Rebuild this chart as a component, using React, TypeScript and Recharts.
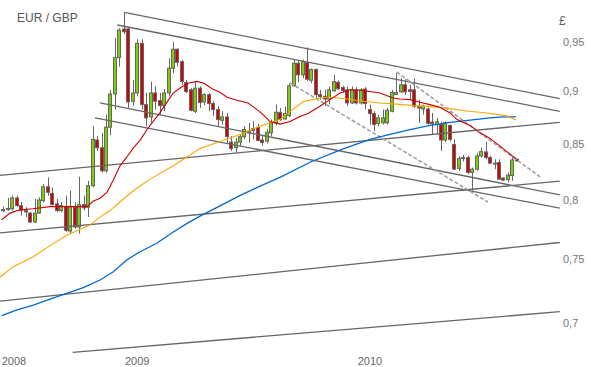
import React from 'react';
import { ComposedChart, Bar, Line, XAxis, YAxis, ReferenceLine } from 'recharts';

// Weekly EUR/GBP candles (index = week number)
const opens = [
  0.7905, 0.7915, 0.7922, 0.8016, 0.7950, 0.7907, 0.7885, 0.7809, 0.7885, 0.7993,
  0.8114, 0.8056, 0.7964, 0.7907, 0.7943, 0.7733, 0.7936, 0.7767, 0.7958, 0.7936,
  0.8123, 0.8537, 0.8466, 0.8256, 0.8657, 0.8975, 0.9337, 0.9632, 0.9632, 0.8904,
  0.8985, 0.9483, 0.8872, 0.8754, 0.8985, 0.8911, 0.8863, 0.8985, 0.9230, 0.9422,
  0.9296, 0.9087, 0.9016, 0.8808, 0.9032, 0.8898, 0.8968, 0.8882, 0.8824, 0.8722,
  0.8754, 0.8518, 0.8466, 0.8518, 0.8568, 0.8604, 0.8645, 0.8657, 0.8537, 0.8527,
  0.8604, 0.8698, 0.8798, 0.8735, 0.8767, 0.9055, 0.9280, 0.9164, 0.9286, 0.9110,
  0.9217, 0.8968, 0.8952, 0.8926, 0.9006, 0.9090, 0.9039, 0.9016, 0.8888, 0.9016,
  0.8888, 0.9023, 0.8824, 0.8786, 0.8693, 0.8698, 0.8698, 0.8808, 0.8970, 0.8996,
  0.9065, 0.9016, 0.9016, 0.8856, 0.8830, 0.8830, 0.8705, 0.8680, 0.8682, 0.8537,
  0.8673, 0.8496, 0.8277, 0.8370, 0.8376, 0.8241, 0.8271, 0.8391, 0.8427, 0.8376,
  0.8325, 0.8331, 0.8191, 0.8177, 0.8213, 0.8360,
];
const closes = [
  0.7915, 0.7925, 0.8016, 0.7950, 0.7907, 0.7895, 0.7809, 0.7885, 0.7998, 0.8114,
  0.8065, 0.7958, 0.7907, 0.7950, 0.7739, 0.7943, 0.7767, 0.7958, 0.7930, 0.8123,
  0.8543, 0.8466, 0.8256, 0.8657, 0.8975, 0.9337, 0.9621, 0.9604, 0.8898, 0.8985,
  0.9483, 0.8872, 0.8745, 0.8985, 0.8904, 0.8863, 0.8985, 0.9230, 0.9422, 0.9290,
  0.9097, 0.8999, 0.8817, 0.9032, 0.8892, 0.8968, 0.8882, 0.8824, 0.8729, 0.8754,
  0.8568, 0.8457, 0.8518, 0.8568, 0.8635, 0.8620, 0.8625, 0.8533, 0.8513, 0.8610,
  0.8698, 0.8798, 0.8729, 0.8785, 0.9055, 0.9280, 0.9164, 0.9297, 0.9120, 0.9217,
  0.8968, 0.8948, 0.8926, 0.9016, 0.9097, 0.9026, 0.9010, 0.8888, 0.9016, 0.8888,
  0.9016, 0.8882, 0.8786, 0.8682, 0.8745, 0.8745, 0.8818, 0.8990, 0.8990, 0.9065,
  0.8996, 0.8999, 0.8856, 0.8840, 0.8856, 0.8693, 0.8690, 0.8708, 0.8537, 0.8698,
  0.8543, 0.8271, 0.8366, 0.8376, 0.8241, 0.8271, 0.8391, 0.8430, 0.8376, 0.8325,
  0.8316, 0.8182, 0.8173, 0.8217, 0.8354, 0.8345,
];
const highs = [
  0.7940, 0.8016, 0.8036, 0.8036, 0.7981, 0.7936, 0.7893, 0.8007, 0.8022, 0.8138,
  0.8197, 0.8108, 0.8007, 0.7981, 0.8036, 0.8080, 0.7978, 0.8202, 0.8036, 0.8167,
  0.8666, 0.8573, 0.8604, 0.8776, 0.9016, 0.9541, 0.9639, 0.9808, 0.9646, 0.9114,
  0.9525, 0.9525, 0.8985, 0.9097, 0.9049, 0.8985, 0.9023, 0.9331, 0.9500, 0.9432,
  0.9314, 0.9114, 0.9032, 0.9097, 0.9049, 0.8985, 0.8985, 0.8904, 0.8856, 0.8808,
  0.8792, 0.8573, 0.8558, 0.8589, 0.8666, 0.8698, 0.8713, 0.8689, 0.8573, 0.8641,
  0.8729, 0.8872, 0.8840, 0.8856, 0.9081, 0.9314, 0.9307, 0.9314, 0.9441, 0.9227,
  0.9227, 0.9016, 0.9016, 0.9049, 0.9164, 0.9107, 0.9055, 0.9049, 0.9049, 0.9042,
  0.9032, 0.9042, 0.8872, 0.8808, 0.8776, 0.8824, 0.8840, 0.9016, 0.9180, 0.9130,
  0.9120, 0.9065, 0.9130, 0.8920, 0.8872, 0.8840, 0.8792, 0.8745, 0.8710, 0.8710,
  0.8682, 0.8543, 0.8391, 0.8400, 0.8391, 0.8285, 0.8421, 0.8466, 0.8518, 0.8391,
  0.8360, 0.8360, 0.8200, 0.8241, 0.8376, 0.8366,
];
const lows = [
  0.7893, 0.7907, 0.7907, 0.7936, 0.7865, 0.7851, 0.7800, 0.7800, 0.7879, 0.7978,
  0.8036, 0.7950, 0.7893, 0.7893, 0.7725, 0.7711, 0.7753, 0.7711, 0.7907, 0.7851,
  0.8108, 0.8436, 0.8241, 0.8241, 0.8583, 0.8824, 0.9247, 0.9580, 0.8840, 0.8863,
  0.8952, 0.8824, 0.8666, 0.8698, 0.8824, 0.8776, 0.8808, 0.8952, 0.9180, 0.9247,
  0.9065, 0.8985, 0.8808, 0.8792, 0.8840, 0.8866, 0.8808, 0.8761, 0.8666, 0.8682,
  0.8512, 0.8436, 0.8421, 0.8481, 0.8543, 0.8513, 0.8543, 0.8527, 0.8487, 0.8506,
  0.8573, 0.8673, 0.8716, 0.8729, 0.8754, 0.9049, 0.9090, 0.9131, 0.9103, 0.9081,
  0.8936, 0.8920, 0.8860, 0.8872, 0.8999, 0.9016, 0.8985, 0.8856, 0.8880, 0.8872,
  0.8872, 0.8824, 0.8682, 0.8620, 0.8666, 0.8682, 0.8682, 0.8798, 0.8968, 0.8985,
  0.8968, 0.8920, 0.8840, 0.8698, 0.8776, 0.8682, 0.8589, 0.8589, 0.8436, 0.8518,
  0.8527, 0.8265, 0.8256, 0.8340, 0.8226, 0.8080, 0.8256, 0.8376, 0.8360, 0.8316,
  0.8271, 0.8176, 0.8164, 0.8153, 0.8167, 0.8340,
];

// Year labels on the time axis (week-index positions)
const yearTickPositions = [-0.36, 27.25, 79.36];
const yearTickLabels = ['2008', '2009', '2010'];
const priceTicks = [0.7, 0.75, 0.8, 0.85, 0.9, 0.95];

// Moving averages
const redMaX = [-0.36, 1.5, 3.74, 6.65, 10.46, 14.26, 18.74, 20.09, 21.65, 23.21, 24.56, 26.13, 27.63, 29.04, 30.61, 32.18, 33.52, 35.09, 36.65, 38.05, 39.57, 41.36, 43.37, 44.94, 46.73, 48.52, 50.09, 52.33, 54.79, 56.36, 57.92, 59.71, 61.95, 64.2, 66.44, 68.23, 70.91, 73.15, 75.39, 77.63, 79.87, 82.11, 84.35, 87.26, 88.83, 91.07, 93.31, 95.55, 97.79, 100.03, 101.6, 104.51, 106.75, 108.98, 111.22, 114.13, 114.8];
const redMaV = [0.7828, 0.7885, 0.7913, 0.7922, 0.7941, 0.7941, 0.7941, 0.7987, 0.8013, 0.8065, 0.8167, 0.8301, 0.8379, 0.8459, 0.8534, 0.8635, 0.8710, 0.8795, 0.8896, 0.8984, 0.9033, 0.9081, 0.9099, 0.9081, 0.9026, 0.8992, 0.8944, 0.8915, 0.8888, 0.8838, 0.8786, 0.8710, 0.8686, 0.8710, 0.8757, 0.8786, 0.8856, 0.8920, 0.8984, 0.9016, 0.9011, 0.9000, 0.8984, 0.8936, 0.8926, 0.8920, 0.8894, 0.8872, 0.8846, 0.8792, 0.8729, 0.8673, 0.8604, 0.8552, 0.8480, 0.8385, 0.8367];
const orangeMaX = [-0.74, 2.24, 6.72, 10.46, 14.2, 19.26, 21.65, 23.89, 26.13, 29.11, 32.85, 38.07, 44.04, 48.52, 53.05, 57.48, 61.95, 64.2, 67.2, 70.91, 73.15, 76.89, 80.61, 84.35, 88.09, 91.8, 95.55, 99.29, 103.76, 108.24, 112.72, 114.8];
const orangeMaV = [0.7356, 0.7439, 0.7520, 0.7611, 0.7697, 0.7781, 0.7851, 0.7907, 0.7981, 0.8079, 0.8182, 0.8301, 0.8459, 0.8524, 0.8589, 0.8668, 0.8729, 0.8805, 0.8901, 0.8936, 0.8945, 0.8926, 0.8905, 0.8888, 0.8877, 0.8862, 0.8853, 0.8838, 0.8810, 0.8791, 0.8764, 0.8724];
const blueMaX = [-0.36, 3.05, 6.72, 10.46, 14.2, 17.91, 21.65, 24.63, 27.63, 30.61, 34.35, 38.07, 41.07, 44.04, 48.52, 53.05, 57.48, 61.95, 68.68, 75.77, 82.11, 86.59, 91.07, 95.55, 100.03, 104.51, 108.98, 111.96, 114.8];
const blueMaV = [0.7053, 0.7097, 0.7135, 0.7182, 0.7227, 0.7271, 0.7332, 0.7398, 0.7493, 0.7561, 0.7631, 0.7725, 0.7795, 0.7859, 0.7947, 0.8038, 0.8120, 0.8197, 0.8333, 0.8451, 0.8543, 0.8589, 0.8635, 0.8673, 0.8703, 0.8724, 0.8745, 0.8754, 0.8754];

// Trend lines: [startWeek, startPrice, endWeek, endPrice]
const solidTrendLines = [
  [27.09, 0.9808, 124.6, 0.8929],
  [25.53, 0.9674, 124.6, 0.8808],
  [21.65, 0.8888, 124.6, 0.8042],
  [20.53, 0.8745, 124.6, 0.7927],
  [-0.74, 0.8215, 124.6, 0.8703],
  [-0.74, 0.7717, 124.6, 0.8164],
  [-0.74, 0.7165, 124.6, 0.7637],
  [15.54, 0.6778, 124.6, 0.7084],
];
const dashedTrendLines = [
  [64.2, 0.9084, 108.53, 0.7981],
  [88.09, 0.9193, 120.18, 0.8202],
];

const X_DOMAIN = [-0.74, 124.65];
const Y_DOMAIN = [0.6758, 0.99404];

const candles = opens.map((o, i) => ({
  i,
  o,
  c: closes[i],
  h: highs[i],
  l: lows[i],
  range: [lows[i], highs[i]],
}));
const toSeries = (xs: number[], vs: number[]) => xs.map((x, k) => ({ i: x, v: vs[k] }));
const redMa = toSeries(redMaX, redMaV);
const orangeMa = toSeries(orangeMaX, orangeMaV);
const blueMa = toSeries(blueMaX, blueMaV);

const FONT = "'Liberation Sans', Arial, sans-serif";

const Candle = (props: any) => {
  const { x, y, width, height, payload } = props;
  if (x == null || y == null || !payload) return null;
  const top = Math.min(y, y + height);
  const hgt = Math.abs(height);
  const { o, c, h, l } = payload;
  const px = Math.round(x + width / 2);
  const lh = Math.log(h);
  const span = lh - Math.log(l) || 1;
  const bTop = top + (hgt * (lh - Math.log(Math.max(o, c)))) / span;
  const bBot = top + (hgt * (lh - Math.log(Math.min(o, c)))) / span;
  const up = c >= o;
  return (
    <g>
      <line x1={px + 0.5} x2={px + 0.5} y1={top} y2={top + hgt} stroke="#666" strokeWidth={1} />
      <rect
        x={px - 1.5}
        y={bTop}
        width={3}
        height={Math.max(bBot - bTop, 1)}
        fill={up ? '#7dd000' : '#d40000'}
        stroke="#666"
        strokeWidth={1}
      />
    </g>
  );
};

const YearTick = (props: any) => {
  const { x, payload } = props;
  const k = yearTickPositions.indexOf(payload.value);
  return (
    <text x={x} y={365} fill="#666" fontSize={11} fontFamily={FONT} textAnchor="start">
      {yearTickLabels[k]}
    </text>
  );
};

const PriceTick = (props: any) => {
  const { y, payload } = props;
  return (
    <text x={563} y={y + 4} fill="#777" fontSize={11} fontFamily={FONT} textAnchor="start">
      {String(payload.value).replace('.', ',')}
    </text>
  );
};

export default function App() {
  return (
    <div style={{ position: 'absolute', left: 0, top: 0, width: 591, height: 367, background: '#fff' }}>
      <ComposedChart
        width={591}
        height={367}
        data={candles}
        margin={{ top: 0, right: 0, bottom: 0, left: 0 }}
      >
        <XAxis
          dataKey="i"
          type="number"
          domain={X_DOMAIN}
          allowDataOverflow
          ticks={yearTickPositions}
          interval={0}
          tick={<YearTick />}
          axisLine={false}
          tickLine={false}
          height={12}
        />
        <YAxis
          orientation="right"
          type="number"
          scale="log"
          domain={Y_DOMAIN}
          allowDataOverflow
          ticks={priceTicks}
          interval={0}
          tick={<PriceTick />}
          axisLine={false}
          tickLine={false}
          width={31}
        />
        {solidTrendLines.map((s, k) => (
          <ReferenceLine
            key={'s' + k}
            segment={[{ x: s[0], y: s[1] }, { x: s[2], y: s[3] }]}
            stroke="#666"
            strokeWidth={1.3}
            ifOverflow="visible"
          />
        ))}
        {dashedTrendLines.map((s, k) => (
          <ReferenceLine
            key={'d' + k}
            segment={[{ x: s[0], y: s[1] }, { x: s[2], y: s[3] }]}
            stroke="#a0a0a0"
            strokeWidth={1.6}
            strokeDasharray="4 2"
            ifOverflow="visible"
          />
        ))}
        <Bar dataKey="range" barSize={4} shape={(p: any) => <Candle {...p} />} isAnimationActive={false} />
        <Line data={blueMa} dataKey="v" type="linear" stroke="#0068d0" strokeWidth={1.3} dot={false} activeDot={false} isAnimationActive={false} />
        <Line data={orangeMa} dataKey="v" type="linear" stroke="#ffa500" strokeWidth={1.1} dot={false} activeDot={false} isAnimationActive={false} />
        <Line data={redMa} dataKey="v" type="linear" stroke="#cc0000" strokeWidth={1.1} dot={false} activeDot={false} isAnimationActive={false} />
      </ComposedChart>
      <svg width={591} height={367} style={{ position: 'absolute', left: 0, top: 0, pointerEvents: 'none' }}>
        <text x={17} y={22} fill="#555" fontSize={12} fontFamily={FONT}>EUR / GBP</text>
        <text x={559} y={25} fill="#666" fontSize={12} fontFamily={FONT}>£</text>
      </svg>
    </div>
  );
}
